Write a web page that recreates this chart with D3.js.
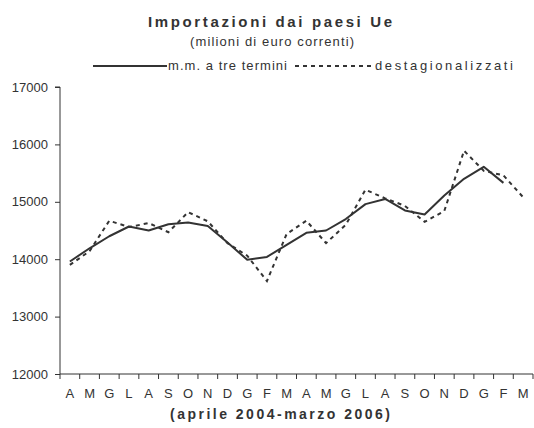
<!DOCTYPE html>
<html>
<head>
<meta charset="utf-8">
<script src="https://cdn.jsdelivr.net/npm/d3@7"></script>
<style>
    body { margin: 0; background: #fff; }
    text { font-family: 'Liberation Sans', Arial, sans-serif; fill: #333; }
</style>
</head>
<body>
<svg id="chart" width="534" height="428"></svg>
<script>
// mesi aprile 2004 - marzo 2006
let mesi = ['A', 'M', 'G', 'L', 'A', 'S', 'O', 'N', 'D', 'G', 'F', 'M',
    'A', 'M', 'G', 'L', 'A', 'S', 'O', 'N', 'D', 'G', 'F', 'M'];
// media mobile a tre termini (ultimo mese non disponibile)
let mediaMobile = [13960, 14190, 14400, 14570, 14500, 14610, 14640, 14580, 14290, 13990, 14040, 14250,
    14460, 14500, 14700, 14960, 15050, 14850, 14780, 15110, 15400, 15610, 15330, null];
// dati destagionalizzati
let destag = [13900, 14140, 14670, 14560, 14630, 14470, 14820, 14660, 14280, 14060, 13620, 14440,
    14670, 14280, 14600, 15210, 15060, 14930, 14650, 14840, 15890, 15540, 15460, 15080];
let yTicks = [12000, 13000, 14000, 15000, 16000, 17000];

function drawChart() {
    let svg = d3.select('#chart');
    let margin = { left: 60, right: 533, top: 87, bottom: 374 };
    let ink = '#333';

    let x = d3.scaleBand()
        .domain(d3.range(mesi.length))
        .range([margin.left, margin.right]);
    let y = d3.scaleLinear()
        .domain([12000, 17000])
        .range([margin.bottom, margin.top]);

    // titolo, sottotitolo
    svg.append('text')
        .attr('x', 270).attr('y', 27)
        .attr('text-anchor', 'middle')
        .attr('font-size', 15).attr('font-weight', 'bold')
        .attr('textLength', 244).attr('lengthAdjust', 'spacing')
        .text('Importazioni dai paesi Ue');
    svg.append('text')
        .attr('x', 272).attr('y', 46)
        .attr('text-anchor', 'middle')
        .attr('font-size', 13)
        .attr('textLength', 164).attr('lengthAdjust', 'spacing')
        .text('(milioni di euro correnti)');

    // legenda
    let leg = svg.append('g').attr('class', 'legend');
    leg.append('line')
        .attr('x1', 93).attr('x2', 167).attr('y1', 66).attr('y2', 66)
        .attr('stroke', ink).attr('stroke-width', 2);
    leg.append('text')
        .attr('x', 168).attr('y', 70).attr('font-size', 13)
        .attr('textLength', 119).attr('lengthAdjust', 'spacing')
        .text('m.m. a tre termini');
    leg.append('line')
        .attr('x1', 295).attr('x2', 374).attr('y1', 66).attr('y2', 66)
        .attr('stroke', ink).attr('stroke-width', 2)
        .attr('stroke-dasharray', '4,4');
    leg.append('text')
        .attr('x', 375).attr('y', 70).attr('font-size', 13)
        .attr('textLength', 138).attr('lengthAdjust', 'spacing')
        .text('destagionalizzati');

    // asse y
    let yAxis = d3.axisLeft(y)
        .tickValues(yTicks)
        .tickSize(5)
        .tickPadding(7)
        .tickFormat(d3.format('d'));
    let gy = svg.append('g')
        .attr('transform', `translate(${margin.left},0)`)
        .call(yAxis);
    gy.select('.domain').attr('stroke', ink).attr('d', `M-5,${margin.top}H0V${margin.bottom}`);
    gy.selectAll('.tick line').attr('stroke', ink);
    gy.selectAll('.tick text')
        .attr('font-size', 13).attr('fill', ink)
        .style('font-family', "'Liberation Sans', Arial, sans-serif");

    // asse x con tacche tra le categorie
    let gx = svg.append('g')
        .attr('transform', `translate(0,${margin.bottom})`);
    gx.append('line')
        .attr('x1', margin.left).attr('x2', margin.right)
        .attr('stroke', ink);
    gx.selectAll('line.tacca')
        .data(d3.range(mesi.length + 1))
        .enter()
        .append('line')
        .attr('class', 'tacca')
        .attr('x1', (d) => margin.left + d * x.step())
        .attr('x2', (d) => margin.left + d * x.step())
        .attr('y1', 0).attr('y2', 5)
        .attr('stroke', ink);
    gx.selectAll('text')
        .data(mesi)
        .enter()
        .append('text')
        .attr('x', (d, i) => x(i) + x.bandwidth() / 2)
        .attr('y', 24)
        .attr('text-anchor', 'middle')
        .attr('font-size', 13)
        .text((d) => d);

    svg.append('text')
        .attr('x', 280).attr('y', 419)
        .attr('text-anchor', 'middle')
        .attr('font-size', 14).attr('font-weight', 'bold')
        .attr('textLength', 220).attr('lengthAdjust', 'spacing')
        .text('(aprile 2004-marzo 2006)');

    // linee
    let line = d3.line()
        .defined((d) => d != null)
        .x((d, i) => x(i) + x.bandwidth() / 2)
        .y((d) => y(d));

    svg.append('path')
        .datum(destag)
        .attr('fill', 'none')
        .attr('stroke', ink)
        .attr('stroke-width', 2)
        .attr('stroke-dasharray', '4,4')
        .attr('d', line);

    svg.append('path')
        .datum(mediaMobile)
        .attr('fill', 'none')
        .attr('stroke', ink)
        .attr('stroke-width', 2)
        .attr('stroke-linejoin', 'round')
        .attr('d', line);
}

drawChart();
</script>
</body>
</html>
